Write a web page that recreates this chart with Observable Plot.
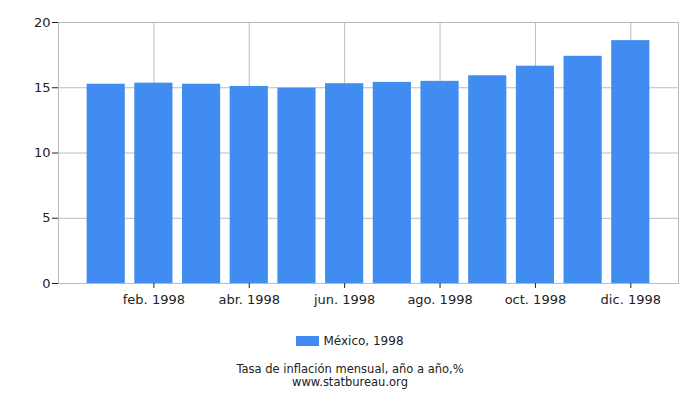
<!DOCTYPE html>
<html>
<head>
<meta charset="utf-8">
<script src="https://cdn.jsdelivr.net/npm/d3@7"></script>
<script src="https://cdn.jsdelivr.net/npm/@observablehq/plot@0.6"></script>
<style>
  html, body { margin: 0; padding: 0; background: #fff; }
  body { width: 700px; height: 400px; font-family: "DejaVu Sans", sans-serif; color: #222; }
  #chart svg { display: block; }
  .legend { position: absolute; top: 334px; left: 0; width: 700px; text-align: center; font-size: 12px; }
  .legend .sw { display: inline-block; width: 23px; height: 10px; background: #418cf0; vertical-align: -1px; margin-right: 4px; }
  .caption { position: absolute; top: 363px; left: 0; width: 700px; text-align: center; font-size: 11.5px; line-height: 13px; }
</style>
</head>
<body>
<div id="chart"></div>
<div class="legend"><span class="sw"></span>México, 1998</div>
<div class="caption">Tasa de inflación mensual, año a año,%<br>www.statbureau.org</div>
<script>
const months = ["ene. 1998","feb. 1998","mar. 1998","abr. 1998","may. 1998","jun. 1998","jul. 1998","ago. 1998","sep. 1998","oct. 1998","nov. 1998","dic. 1998"];
const values = [15.27, 15.35, 15.27, 15.10, 14.97, 15.31, 15.41, 15.49, 15.92, 16.65, 17.41, 18.61];
const xTicks = ["feb. 1998","abr. 1998","jun. 1998","ago. 1998","oct. 1998","dic. 1998"];
const yTicks = [0, 5, 10, 15, 20];

const data = months.map((m, i) => ({month: m, value: values[i]}));

const chart = Plot.plot({
  width: 700,
  height: 310,
  marginLeft: 58,
  marginRight: 22,
  marginTop: 22,
  marginBottom: 27,
  style: {fontFamily: "DejaVu Sans, sans-serif", fontSize: "13px", color: "#222"},
  x: {type: "band", domain: months, paddingInner: 0.2, paddingOuter: 0.6, round: false, label: null},
  y: {domain: [0, 20], label: null},
  marks: [
    Plot.gridY(yTicks, {stroke: "#bbb", strokeOpacity: 1}),
    Plot.gridX(xTicks, {stroke: "#bbb", strokeOpacity: 1}),
    Plot.barY(data, {x: "month", y: "value", fill: "#418cf0"}),
    Plot.frame({stroke: "#bbb"}),
    Plot.axisY(yTicks, {tickSize: 6, tickPadding: 2, stroke: "#222", fontSize: 13}),
    Plot.axisX(xTicks, {tickSize: 5, tickPadding: 6, stroke: "#222", fontSize: 13})
  ]
});
document.getElementById("chart").appendChild(chart);
</script>
</body>
</html>
